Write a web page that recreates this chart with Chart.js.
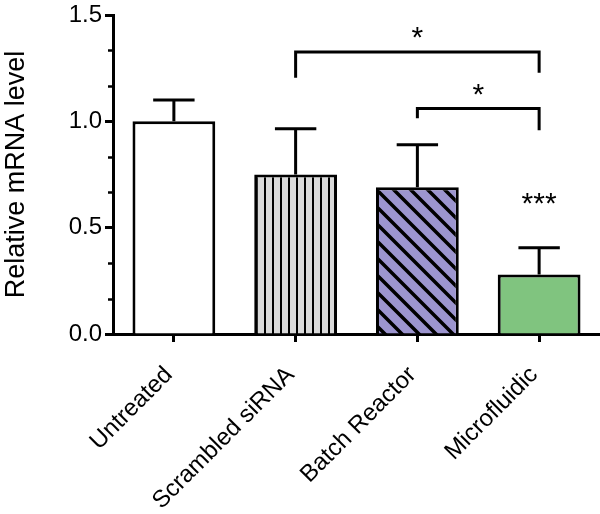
<!DOCTYPE html>
<html>
<head>
<meta charset="utf-8">
<script src="https://cdn.jsdelivr.net/npm/chart.js@4"></script>
<style>
  html, body { margin: 0; padding: 0; background: #fff; }
  #wrap { width: 600px; height: 514px; }
</style>
</head>
<body>
<div id="wrap"><canvas id="chart"></canvas></div>
<script>
// data
const categories = ['Untreated', 'Scrambled siRNA', 'Batch Reactor', 'Microfluidic'];
const means = [1.0, 0.75, 0.69, 0.28];
const errors = [0.10, 0.215, 0.20, 0.125];
const yTicks = [0, 0.5, 1.0, 1.5];
// significance brackets: category indices, bar height, leg ends, label
const bracketFrom = [1, 2];
const bracketTo = [3, 3];
const bracketY = [1.326, 1.06];
const bracketLegFrom = [1.205, 1.014];
const bracketLegTo = [1.228, 0.958];
const bracketLabel = ['*', '*'];
// stars above a single bar
const starBar = [3];
const starY = [0.61];
const starLabel = ['***'];

const makeVertical = (bg) => {
    const c = document.createElement('canvas');
    c.width = 8; c.height = 8;
    const g = c.getContext('2d');
    g.fillStyle = bg; g.fillRect(0, 0, 8, 8);
    g.fillStyle = '#000';
    g.fillRect(0, 0, 2, 8);
    return g.createPattern(c, 'repeat');
};

const makeDiagonal = (bg) => {
    const s = 17;
    const c = document.createElement('canvas');
    c.width = s; c.height = s;
    const g = c.getContext('2d');
    g.fillStyle = bg; g.fillRect(0, 0, s, s);
    g.strokeStyle = '#000';
    g.lineWidth = 3.5;
    g.beginPath();
    g.moveTo(-2, -2); g.lineTo(s + 2, s + 2);
    g.moveTo(-2, s - 2); g.lineTo(2, s + 2);
    g.moveTo(s - 2, -2); g.lineTo(s + 2, 2);
    g.stroke();
    return g.createPattern(c, 'repeat');
};

const fills = ['#ffffff', makeVertical('#d9d9d9'), makeDiagonal('#9c95cf'), '#80c47f'];

const extras = {
    id: 'extras',
    afterDatasetsDraw(chart) {
        const ctx = chart.ctx;
        const x = chart.scales.x, y = chart.scales.y;
        const meta = chart.getDatasetMeta(0);
        ctx.save();
        ctx.strokeStyle = '#000';
        ctx.lineWidth = 3;
        ctx.lineCap = 'butt';
        // error bars (upper only)
        meta.data.forEach((bar, i) => {
            const top = y.getPixelForValue(means[i]);
            const end = y.getPixelForValue(means[i] + errors[i]);
            const half = bar.width / 4;
            ctx.beginPath();
            ctx.moveTo(bar.x, top);
            ctx.lineTo(bar.x, end);
            ctx.moveTo(bar.x - half, end);
            ctx.lineTo(bar.x + half, end);
            ctx.stroke();
        });
        // minor ticks on y
        ctx.lineWidth = 2.5;
        for (let i = 0; i < yTicks.length - 1; i++) {
            for (let k = 1; k < 3; k++) {
                const v = yTicks[i] + (yTicks[i + 1] - yTicks[i]) * k / 3;
                const py = Math.round(y.getPixelForValue(v)) + 0.5;
                ctx.beginPath();
                ctx.moveTo(x.left - 5, py);
                ctx.lineTo(x.left, py);
                ctx.stroke();
            }
        }
        // brackets
        ctx.lineWidth = 3;
        ctx.fillStyle = '#000';
        ctx.textAlign = 'center';
        ctx.textBaseline = 'middle';
        ctx.font = '30px "Liberation Sans", Arial, sans-serif';
        bracketFrom.forEach((f, i) => {
            const x1 = x.getPixelForValue(f);
            const x2 = x.getPixelForValue(bracketTo[i]);
            const py = y.getPixelForValue(bracketY[i]);
            ctx.beginPath();
            ctx.moveTo(x1, y.getPixelForValue(bracketLegFrom[i]));
            ctx.lineTo(x1, py);
            ctx.lineTo(x2, py);
            ctx.lineTo(x2, y.getPixelForValue(bracketLegTo[i]));
            ctx.stroke();
            ctx.fillText(bracketLabel[i], (x1 + x2) / 2, py - 13);
        });
        starBar.forEach((b, i) => {
            ctx.fillText(starLabel[i], x.getPixelForValue(b), y.getPixelForValue(starY[i]));
        });
        ctx.restore();
    }
};

const font = '"Liberation Sans", Arial, sans-serif';

new Chart(document.getElementById('chart'), {
    type: 'bar',
    data: {
        labels: categories,
        datasets: [{
            data: means,
            backgroundColor: fills,
            borderColor: '#000',
            borderWidth: 3,
            categoryPercentage: 1,
            barPercentage: 0.68
        }]
    },
    options: {
        responsive: true,
        maintainAspectRatio: false,
        animation: false,
        layout: { padding: { top: 12, right: 0 } },
        plugins: { legend: { display: false }, tooltip: { enabled: false } },
        scales: {
            x: {
                afterFit: (s) => { s.height = 180; },
                border: { color: '#000', width: 3 },
                grid: { offset: false, drawOnChartArea: false, tickLength: 8, tickWidth: 3, tickColor: '#000' },
                ticks: {
                    color: '#000',
                    font: { family: font, size: 24 },
                    minRotation: 45,
                    maxRotation: 45,
                    padding: 19,
                    labelOffset: -5
                }
            },
            y: {
                min: 0,
                max: 1.5,
                afterFit: (s) => { s.width = 113; },
                border: { color: '#000', width: 3 },
                grid: { drawOnChartArea: false, tickLength: 8, tickWidth: 3, tickColor: '#000' },
                ticks: {
                    stepSize: 0.5,
                    color: '#000',
                    padding: 3,
                    font: { family: font, size: 24, lineHeight: 1 },
                    callback: (v) => Number(v).toFixed(1)
                },
                title: {
                    display: true,
                    text: 'Relative mRNA level',
                    color: '#000',
                    font: { family: font, size: 27 },
                    padding: { top: 0, bottom: 0 }
                }
            }
        }
    },
    plugins: [extras]
});
</script>
</body>
</html>
